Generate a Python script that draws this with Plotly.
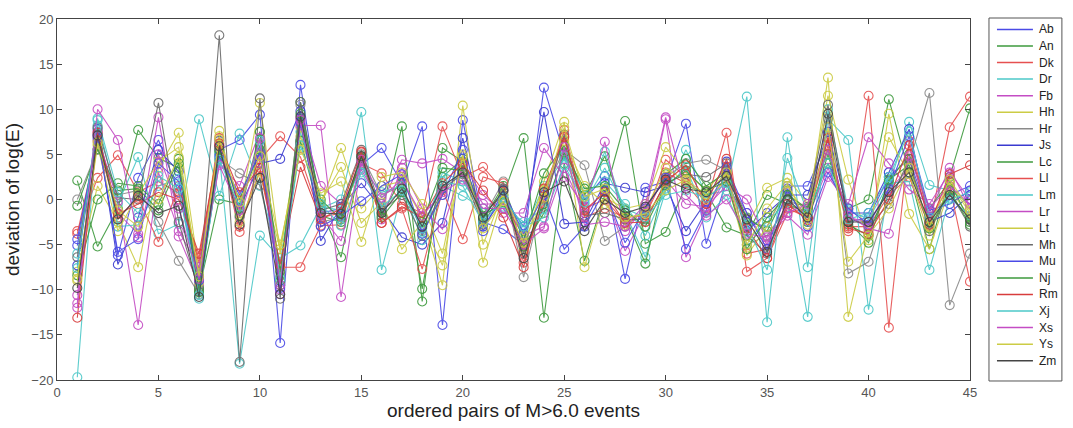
import plotly.graph_objects as go

x_pos = list(range(1, 46))
names = ["Ab", "An", "Dk", "Dr", "Fb", "Hh", "Hr", "Js", "Lc", "Ll", "Lm",
         "Lr", "Lt", "Mh", "Mu", "Nj", "Rm", "Xj", "Xs", "Ys", "Zm"]

Ab = [-5.1, 7.2, -6.2, 2.4, 6.6, 0.8, -9.0, 5.5, 6.6, 9.4, -15.9, 12.7, -1.5, -1.0, 3.8, 5.7, 1.8, 8.1, -13.9, 8.8, -2.5, -3.3, -5.0, 12.4, 5.0, 0.0, 2.6, -8.8, 1.3, 2.0, 8.4, -4.9, 2.0, -2.5, -3.0, 1.5, 1.5, 6.5, -2.5, -2.0, 2.5, 4.5, -2.0, 0.5, 1.5]
An = [2.1, -5.2, -1.0, 7.7, 4.6, 3.5, -10.0, 0.0, -0.5, 5.5, -9.5, 10.8, -1.0, -6.4, 4.5, -1.5, 8.1, -11.3, 5.7, 4.2, -1.5, 0.5, 6.8, -13.1, 4.0, -6.8, 0.5, 8.7, -4.9, -3.6, 1.5, 0.8, -3.1, -4.0, 0.5, -0.5, -1.5, 4.0, -1.0, 0.0, 11.1, 3.0, -5.5, 2.5, 10.1]
Dk = [-3.5, 2.4, 4.9, 0.8, 2.0, 0.7, -6.5, 6.0, -3.6, 4.4, 7.0, 4.7, -2.0, -1.5, 4.0, 2.9, -0.5, -1.5, 8.1, 2.5, 3.6, 1.0, -7.0, 0.0, 7.7, -1.0, 0.0, -2.5, -2.0, 4.4, 2.5, -0.5, 7.4, -8.0, -6.5, -1.5, -1.0, 7.0, -3.0, -3.0, 0.5, 2.5, -3.0, 8.0, 11.4]
Dr = [-19.7, 8.8, -0.5, 4.7, -3.8, -2.7, 8.9, 0.4, 7.3, 1.5, -7.0, 7.5, -1.0, 0.0, 9.7, -7.8, 0.8, -3.0, 1.5, 0.4, -1.0, -1.0, -3.5, 1.5, 4.5, -0.5, 5.3, -1.5, -6.4, 1.0, 5.5, 0.5, 1.0, 11.4, -13.6, 6.9, -7.5, 8.9, 6.6, -12.2, 1.5, 8.6, 1.6, 1.0, -0.5]
Fb = [-12.0, 7.5, -1.5, -3.8, 9.1, -4.1, -9.5, 4.0, 1.5, 7.5, -10.5, 9.0, 1.5, -0.5, 3.3, -0.5, 4.4, 4.0, 4.5, 3.0, -0.5, -0.5, -4.0, -3.0, 3.5, -1.5, 1.0, -5.7, -1.5, 8.9, -6.4, -1.5, 2.5, -1.5, -5.0, 0.8, -2.0, 3.5, -2.0, -2.5, 1.0, 3.5, -1.5, 3.5, -1.0]
Hh = [-8.0, 1.5, -2.5, -7.5, 3.5, 7.4, -8.0, 7.6, -1.5, 10.7, -6.0, 8.0, -0.5, 5.7, -1.0, 1.5, 2.0, -2.0, -9.5, 10.4, -5.0, 0.8, -5.5, 2.0, 8.6, -7.5, 0.2, -1.0, -0.5, 5.8, 3.0, 1.0, 3.5, -3.0, 1.3, 2.4, -0.5, 11.5, 2.2, -4.5, 9.5, -1.6, -5.5, 1.2, -2.0]
Hr = [0.0, 5.5, 0.5, 1.0, -2.5, -6.8, -10.5, 4.5, 2.9, 1.6, -8.5, 10.5, -2.5, -2.0, 5.0, 0.5, 1.5, -3.5, 0.5, 3.5, -2.0, 2.0, -8.6, 0.8, 5.5, 3.8, -4.6, -3.0, -1.0, 2.5, 4.0, 4.4, 3.2, -5.0, -4.0, -0.8, -1.2, 9.0, -8.2, -6.9, 0.0, 4.0, 11.8, -11.7, -6.0]
Js = [-7.3, 7.8, -7.2, -2.0, 5.5, 3.1, -8.5, 6.5, -1.0, 4.0, 4.5, 9.8, -4.6, -0.8, 1.8, -1.0, -4.2, -5.0, -2.6, 6.8, -3.0, 0.2, -3.0, 9.7, -2.7, -2.5, 1.8, 1.3, 0.8, 1.5, -3.5, -0.2, 4.2, -3.5, -1.5, 0.5, 0.5, 7.5, -1.5, -1.5, 3.0, 7.8, -2.5, -1.5, 0.5]
Lc = [-8.4, 0.0, 1.8, 1.5, -0.5, 4.5, -9.8, 5.2, 0.0, 6.0, -9.0, 6.5, -1.8, -2.5, 4.8, -1.8, 2.5, -9.9, 2.5, 4.5, -2.2, 1.5, -4.5, 2.9, 6.0, 0.5, 4.8, -1.8, -7.1, 2.8, 4.5, 1.5, 3.0, -2.0, -3.5, 1.0, -2.5, 5.0, -2.8, -4.0, 2.0, 5.0, -1.0, 2.0, -2.5]
Ll = [-3.8, 6.5, -2.0, 0.2, -4.7, 1.5, -7.0, 6.8, -3.0, 3.2, -7.5, -7.5, -2.9, -2.8, 5.2, -2.6, -1.0, -7.7, 1.0, -4.4, 2.5, 1.8, -5.8, -0.5, 7.0, -2.0, -1.0, -2.0, -1.8, 3.0, 1.8, -1.0, 2.8, -6.0, -5.5, -1.0, -2.0, 6.0, -3.5, 11.5, -14.2, 6.5, -2.2, 1.5, -9.1]
Lm = [-6.0, 8.2, -3.0, -2.8, 1.5, 2.3, -11.0, 5.0, -18.2, -4.0, -6.5, -5.1, -0.8, -1.2, 3.5, 0.8, 1.5, -4.5, 3.0, 2.0, -1.5, -0.8, -2.5, -1.0, 4.8, 0.8, 2.0, -0.5, -4.0, 1.2, 3.6, -2.0, 0.5, -4.5, -2.5, -0.2, -13.0, 10.0, -1.2, -2.2, 1.8, 2.0, -7.8, 0.2, -1.8]
Lr = [-10.6, 7.0, -0.2, -13.9, 3.0, -3.5, -7.5, 5.8, -2.0, 5.0, -10.0, 8.2, 8.2, -10.8, 4.2, -2.2, 3.5, -1.0, -3.3, 3.8, 0.5, -1.5, -1.5, 5.7, 2.5, -0.8, 6.4, -3.5, -0.8, 2.2, -0.5, -0.8, 1.5, 0.0, -4.5, -1.8, -3.9, 2.5, -0.5, 6.9, 4.0, 1.1, -0.5, 3.0, 0.0]
Lt = [-9.0, 6.0, -3.5, 0.6, 4.2, 5.8, -9.2, 7.0, -2.5, 3.0, -5.5, 7.0, -0.3, 3.6, -2.6, -0.3, -5.5, -2.5, -7.3, 5.0, -7.0, 0.5, -4.0, 1.0, 6.5, 1.5, -0.5, -2.8, -1.2, 3.5, 2.0, 0.0, 2.2, -6.2, -3.0, 1.5, -1.8, 13.5, -13.0, -3.5, 6.9, 2.8, -4.0, 1.8, -1.5]
Mh = [-6.4, 8.0, 0.2, 0.0, 10.7, -2.5, -10.2, 18.2, -18.0, 11.2, -11.0, 10.8, -1.2, -0.5, 5.5, -1.2, 0.5, -4.0, 1.2, 2.8, -2.8, 1.2, -6.0, -0.8, 7.2, -1.8, -1.5, -2.2, -2.2, 1.8, 2.8, 2.5, 4.0, -4.0, -6.0, -0.2, -0.8, 10.5, -2.0, -3.0, -0.5, 4.5, -3.5, 0.8, -3.0]
Mu = [-4.4, 6.8, -5.8, -4.4, 4.0, 2.0, -9.0, 4.8, 0.5, 5.2, -9.8, 8.5, -3.0, -1.8, -0.2, 1.5, 2.8, -3.8, 0.5, 5.5, -3.5, 1.0, -3.8, 0.5, -5.5, -3.0, 1.0, -4.8, -1.0, 2.4, -5.5, -1.2, 3.6, -1.5, -5.5, 1.2, -3.0, 3.0, -1.0, -2.8, 1.2, 7.0, -1.2, -0.5, 1.0]
Nj = [-0.7, 5.6, 1.0, 1.2, -1.2, 4.0, -10.3, 5.5, -1.8, 7.5, -8.0, 9.5, 0.0, -2.2, 4.6, -2.0, 0.8, -2.5, 3.5, 3.2, -1.8, -0.3, -5.2, -1.5, 5.2, 1.2, 1.5, -1.2, -3.0, 1.6, 3.2, 1.0, 2.0, -5.5, -2.0, 0.5, -1.0, 5.5, -2.5, -4.8, 2.2, 3.8, -3.2, 1.0, -2.8]
Rm = [-13.1, 7.4, -1.6, -0.5, 0.8, 0.0, -6.0, 6.2, 0.8, 3.5, -7.2, 3.6, -2.2, -1.0, 5.3, -2.6, -0.8, -2.0, 1.8, 4.0, 1.0, -2.0, -7.5, 1.2, 6.9, -1.2, 0.8, -2.6, -2.5, 2.0, 3.8, -0.5, 4.5, -3.2, -6.5, -0.5, -2.3, 6.8, -3.2, -3.8, 0.0, 6.0, -2.8, 2.8, 3.8]
Xj = [-7.6, 9.0, 0.8, -1.5, 2.6, 1.2, -10.6, 4.4, -0.8, 6.5, -8.8, 6.0, -0.5, -2.9, 3.0, -0.8, 1.0, -3.2, 2.0, 1.5, -2.6, 0.2, -3.0, -2.0, 3.8, -0.3, 3.5, -1.0, -2.0, 0.5, 1.0, 0.2, 1.8, -2.8, -7.8, 4.6, -1.5, 4.0, -2.2, -1.5, 2.5, 7.5, -2.0, 0.0, 0.8]
Xs = [-11.5, 10.0, 6.6, -4.2, 5.0, -1.0, -8.8, 3.8, -1.2, 6.8, -9.5, 8.8, -1.8, -4.6, 4.4, 0.2, 2.2, -1.8, 0.8, 2.2, -1.0, -1.0, -5.0, -3.2, 5.8, -2.8, -2.5, -3.0, -0.5, 9.1, 0.5, -1.8, 0.0, -3.8, -4.2, -1.5, -0.5, 5.5, -1.8, -3.2, -3.8, 4.8, -1.0, 1.5, -0.5]
Ys = [-8.8, 6.3, -1.2, -3.0, 0.0, 4.7, -8.5, 6.6, -0.3, 4.8, -5.0, 5.5, 0.7, 2.0, -4.7, 2.5, 3.0, -0.5, -6.0, 4.8, -3.2, -0.2, -4.8, 0.2, 8.0, 0.3, 1.2, -2.0, -1.6, 1.0, 2.2, 0.5, 3.0, -5.0, -1.0, 1.8, -2.8, 8.0, -6.9, -4.0, -1.0, 3.5, -3.0, 2.2, -1.2]
Zm = [-9.8, 7.1, -2.2, 0.4, -1.5, -0.7, -10.8, 5.9, -2.8, 2.4, -10.5, 9.2, -1.5, -1.6, 4.8, -1.5, 1.2, -3.0, 1.5, 3.0, -2.0, 1.0, -6.5, 0.8, 2.0, -3.5, 0.0, -1.5, -0.8, 2.2, 1.2, 0.8, 2.6, -2.2, -5.8, 0.0, -2.0, 9.5, -2.5, -2.5, 0.8, 3.0, -2.5, 0.5, -2.2]

series = [Ab, An, Dk, Dr, Fb, Hh, Hr, Js, Lc, Ll, Lm, Lr, Lt, Mh, Mu, Nj, Rm, Xj, Xs, Ys, Zm]
for n, s in zip(names, series):
    assert len(s) == 45, (n, len(s))

palette = ["#4a4ae6", "#3d9a3d", "#e65050", "#4cc8c8", "#c44cc4", "#cccc44",
           "#8a8a8a", "#3a3ad0", "#3d9a3d", "#e65050", "#4cc8c8", "#c44cc4",
           "#cccc44", "#6a6a6a", "#4a4ae6", "#3d9a3d", "#d83c3c", "#4cc8c8",
           "#c44cc4", "#cccc44", "#444444"]

W, H = 1073, 428
ML, MR, MT, MB = 56, 103, 15, 48
PW, PH = W - ML - MR, H - MT - MB


def px(xp):
    return (xp - ML) / PW


def py(yp):
    return (H - MB - yp) / PH


fig = go.Figure()
for n, s, c in zip(names, series, palette):
    fig.add_trace(go.Scatter(
        x=x_pos, y=s, mode="lines+markers", name=n, showlegend=False,
        line=dict(color=c, width=1.1),
        marker=dict(symbol="circle-open", size=9, color=c, line=dict(width=1.1)),
        opacity=0.9))

# legend drawn as a box with line samples and text labels
shapes = [dict(type="rect", xref="paper", yref="paper",
               x0=px(989), x1=px(1062), y0=py(381), y1=py(14),
               line=dict(color="#555", width=1), fillcolor="white", layer="above")]
annotations = []
row0, step = 25.5, 16.75
for i, (n, c) in enumerate(zip(names, palette)):
    yy = py(row0 + i * step)
    shapes.append(dict(type="line", xref="paper", yref="paper",
                       x0=px(997), x1=px(1033), y0=yy, y1=yy,
                       line=dict(color=c, width=1.5), layer="above"))
    annotations.append(dict(xref="paper", yref="paper", x=px(1037), y=yy,
                            text=n, showarrow=False, xanchor="left",
                            yanchor="middle",
                            font=dict(size=12, color="#222")))

font_fam = "Liberation Sans, Arial, sans-serif"
fig.update_layout(
    width=W, height=H,
    margin=dict(l=ML, r=MR, t=MT, b=MB),
    paper_bgcolor="white", plot_bgcolor="white",
    font=dict(family=font_fam, color="#333"),
    showlegend=False,
    shapes=shapes, annotations=annotations,
)
fig.update_xaxes(range=[0, 45], tickvals=list(range(0, 46, 5)),
                 ticks="inside", ticklen=5, showline=True, linecolor="#444",
                 mirror="allticks", showgrid=False, zeroline=False,
                 tickfont=dict(size=13, color="#555"),
                 title=dict(text="ordered pairs of M>6.0 events",
                            font=dict(size=19, color="#222"), standoff=2))
fig.update_yaxes(range=[-20, 20], tickvals=list(range(-20, 21, 5)),
                 ticks="inside", ticklen=5, showline=True, linecolor="#444",
                 mirror="allticks", showgrid=False, zeroline=False,
                 tickfont=dict(size=13, color="#555"),
                 title=dict(text="deviation of log(E)",
                            font=dict(size=19, color="#222"), standoff=6))

fig.write_html("out.html")
